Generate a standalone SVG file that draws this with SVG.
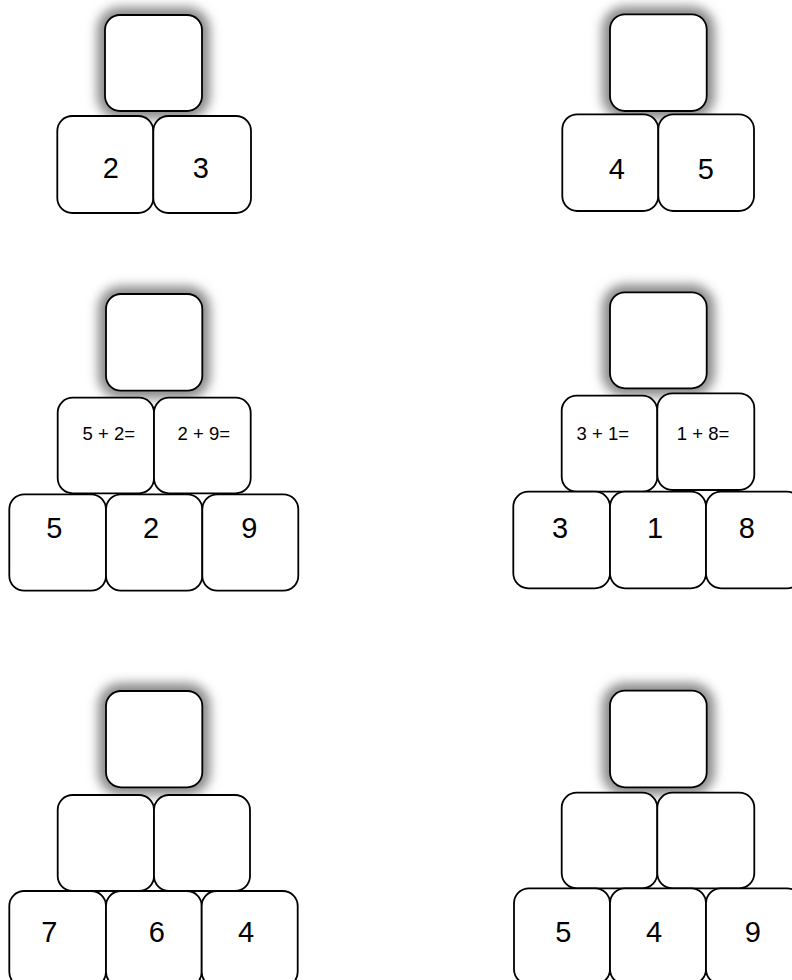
<svg xmlns="http://www.w3.org/2000/svg" width="792" height="980" viewBox="0 0 792 980">
  <defs>
    <filter id="glow" x="-50%" y="-50%" width="200%" height="200%">
      <feGaussianBlur stdDeviation="5.5"/>
    </filter>
    <style>
      .box { fill: #ffffff; stroke: #000000; stroke-width: 1.8; }
      .shadow { fill: #8a8a8a; stroke: #8a8a8a; stroke-width: 16; filter: url(#glow); }
      .big { font-family: "Liberation Sans", Arial, sans-serif; font-size: 29px; fill: #000; text-anchor: middle; }
      .small { font-family: "Liberation Sans", Arial, sans-serif; font-size: 18.5px; fill: #000; text-anchor: middle; }
    </style>
  </defs>
  <rect width="792" height="980" fill="#ffffff"/>

  <!-- Pyramid 1 (top-left) -->
  <g id="p1">
    <rect class="shadow" x="105" y="15" width="97" height="96" rx="15"/>
    <g id="p1-top"><rect class="box" x="105" y="15" width="97" height="96" rx="15"/></g>
    <g id="p1-b1"><rect class="box" x="57.3" y="116" width="96" height="97" rx="15"/><text class="big" x="110.8" y="178">2</text></g>
    <g id="p1-b2"><rect class="box" x="153.3" y="116" width="97.7" height="97" rx="15"/><text class="big" x="200.8" y="178">3</text></g>
  </g>

  <!-- Pyramid 2 (top-right) -->
  <g id="p2">
    <rect class="shadow" x="610" y="14.3" width="96.7" height="96.7" rx="15"/>
    <g id="p2-top"><rect class="box" x="610" y="14.3" width="96.7" height="96.7" rx="15"/></g>
    <g id="p2-b1"><rect class="box" x="562.3" y="114.3" width="96" height="96.7" rx="15"/><text class="big" x="616.7" y="179">4</text></g>
    <g id="p2-b2"><rect class="box" x="658.3" y="114.3" width="95.7" height="96.7" rx="15"/><text class="big" x="705.7" y="179">5</text></g>
  </g>

  <!-- Pyramid 3 (middle-left) -->
  <g id="p3">
    <rect class="shadow" x="106" y="294" width="96.3" height="96.7" rx="15"/>
    <g id="p3-top"><rect class="box" x="106" y="294" width="96.3" height="96.7" rx="15"/></g>
    <g id="p3-m1"><rect class="box" x="57.7" y="397.7" width="96.3" height="95.6" rx="15"/><text class="small" x="108.8" y="439.5">5 + 2=</text></g>
    <g id="p3-m2"><rect class="box" x="154" y="397.7" width="96.7" height="95.6" rx="15"/><text class="small" x="203.8" y="439.5">2 + 9=</text></g>
    <g id="p3-b1"><rect class="box" x="9.3" y="494.3" width="96.7" height="96.4" rx="15"/><text class="big" x="54.2" y="538">5</text></g>
    <g id="p3-b2"><rect class="box" x="106" y="494.3" width="96.3" height="96.4" rx="15"/><text class="big" x="151" y="538">2</text></g>
    <g id="p3-b3"><rect class="box" x="202.3" y="494.3" width="96" height="96.4" rx="15"/><text class="big" x="249.3" y="538">9</text></g>
  </g>

  <!-- Pyramid 4 (middle-right) -->
  <g id="p4">
    <rect class="shadow" x="610" y="292.3" width="96.7" height="96" rx="15"/>
    <g id="p4-top"><rect class="box" x="610" y="292.3" width="96.7" height="96" rx="15"/></g>
    <g id="p4-m1"><rect class="box" x="561.7" y="395.7" width="95.6" height="96" rx="15"/><text class="small" x="602.8" y="439.5">3 + 1=</text></g>
    <g id="p4-m2"><rect class="box" x="657.3" y="393.3" width="97" height="96.7" rx="15"/><text class="small" x="703" y="439.5">1 + 8=</text></g>
    <g id="p4-b1"><rect class="box" x="513.3" y="491.7" width="96.7" height="96.6" rx="15"/><text class="big" x="560" y="537.7">3</text></g>
    <g id="p4-b2"><rect class="box" x="610" y="491.7" width="96" height="96.6" rx="15"/><text class="big" x="655" y="537.7">1</text></g>
    <g id="p4-b3"><rect class="box" x="706" y="491.7" width="96" height="96.6" rx="15"/><text class="big" x="746.7" y="537.7">8</text></g>
  </g>

  <!-- Pyramid 5 (bottom-left) -->
  <g id="p5">
    <rect class="shadow" x="106" y="691" width="96.3" height="96.3" rx="15"/>
    <g id="p5-top"><rect class="box" x="106" y="691" width="96.3" height="96.3" rx="15"/></g>
    <g id="p5-m1"><rect class="box" x="57.7" y="795" width="96.3" height="96" rx="15"/></g>
    <g id="p5-m2"><rect class="box" x="154" y="795" width="96" height="96" rx="15"/></g>
    <g id="p5-b1"><rect class="box" x="9.3" y="891" width="96.7" height="96" rx="15"/><text class="big" x="49.3" y="942.3">7</text></g>
    <g id="p5-b2"><rect class="box" x="106" y="891" width="95.7" height="96" rx="15"/><text class="big" x="156.7" y="942.3">6</text></g>
    <g id="p5-b3"><rect class="box" x="201.7" y="891" width="96" height="96" rx="15"/><text class="big" x="246" y="942.3">4</text></g>
  </g>

  <!-- Pyramid 6 (bottom-right) -->
  <g id="p6">
    <rect class="shadow" x="610" y="690.7" width="96.7" height="96.6" rx="15"/>
    <g id="p6-top"><rect class="box" x="610" y="690.7" width="96.7" height="96.6" rx="15"/></g>
    <g id="p6-m1"><rect class="box" x="561.7" y="792.7" width="95.6" height="95.6" rx="15"/></g>
    <g id="p6-m2"><rect class="box" x="657.3" y="792.7" width="97" height="95.6" rx="15"/></g>
    <g id="p6-b1"><rect class="box" x="514" y="888.3" width="96" height="96" rx="15"/><text class="big" x="563.3" y="942.3">5</text></g>
    <g id="p6-b2"><rect class="box" x="610" y="888.3" width="96" height="96" rx="15"/><text class="big" x="654" y="942.3">4</text></g>
    <g id="p6-b3"><rect class="box" x="706" y="888.3" width="96" height="96" rx="15"/><text class="big" x="752.7" y="942.3">9</text></g>
  </g>
</svg>
